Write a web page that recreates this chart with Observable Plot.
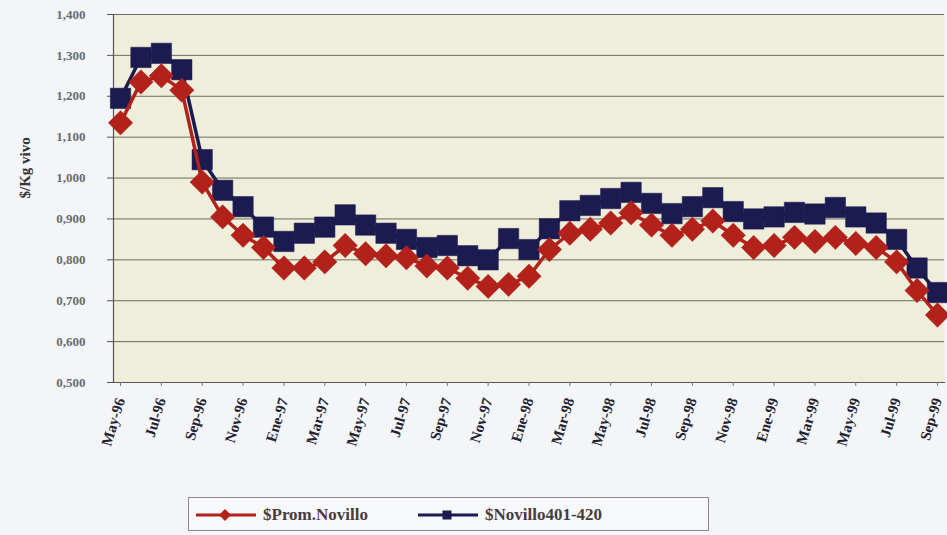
<!DOCTYPE html>
<html>
<head>
<meta charset="utf-8">
<script src="https://cdn.jsdelivr.net/npm/d3@7"></script>
<script src="https://cdn.jsdelivr.net/npm/@observablehq/plot@0.6"></script>
<style>
  html, body { margin: 0; padding: 0; }
  body { width: 947px; height: 535px; position: relative; overflow: hidden; background: #f3f5f9; font-family: "Liberation Serif", serif; }
  #chart { position: absolute; left: 0; top: 0; }
  #legend { position: absolute; left: 188px; top: 497px; width: 521px; height: 34px; border: 1px solid #8a8a8a; background: #f7f8fa; box-sizing: border-box; }
  .item { position: absolute; top: 0; height: 34px; display: flex; align-items: center; font-weight: bold; font-size: 17px; color: #4a3c3c; }
  .item svg { margin-right: 6px; }
</style>
</head>
<body>
<div id="chart"></div>
<div id="legend"></div>
<script>
const months = ["May-96","Jun-96","Jul-96","Ago-96","Sep-96","Oct-96","Nov-96","Dic-96",
  "Ene-97","Feb-97","Mar-97","Abr-97","May-97","Jun-97","Jul-97","Ago-97","Sep-97","Oct-97","Nov-97","Dic-97",
  "Ene-98","Feb-98","Mar-98","Abr-98","May-98","Jun-98","Jul-98","Ago-98","Sep-98","Oct-98","Nov-98","Dic-98",
  "Ene-99","Feb-99","Mar-99","Abr-99","May-99","Jun-99","Jul-99","Ago-99","Sep-99"];
const tickLabels = ["May-96","Jul-96","Sep-96","Nov-96","Ene-97","Mar-97","May-97","Jul-97","Sep-97","Nov-97",
  "Ene-98","Mar-98","May-98","Jul-98","Sep-98","Nov-98","Ene-99","Mar-99","May-99","Jul-99","Sep-99"];
const yTicks = [0.5, 0.6, 0.7, 0.8, 0.9, 1.0, 1.1, 1.2, 1.3, 1.4];
const promNovillo = [1.135, 1.235, 1.25, 1.215, 0.99, 0.905, 0.86, 0.83, 0.78, 0.78,
  0.795, 0.835, 0.815, 0.81, 0.805, 0.785, 0.78, 0.755, 0.735, 0.74,
  0.76, 0.825, 0.865, 0.875, 0.89, 0.915, 0.885, 0.86, 0.875, 0.895,
  0.86, 0.83, 0.835, 0.855, 0.845, 0.855, 0.84, 0.83, 0.795, 0.725, 0.665];
const novillo401 = [1.195, 1.295, 1.305, 1.265, 1.045, 0.97, 0.93, 0.88, 0.845, 0.865,
  0.88, 0.91, 0.885, 0.865, 0.85, 0.83, 0.835, 0.81, 0.80, 0.852,
  0.825, 0.876, 0.92, 0.933, 0.95, 0.965, 0.938, 0.913, 0.93, 0.952,
  0.918, 0.90, 0.905, 0.916, 0.912, 0.928, 0.905, 0.89, 0.85, 0.78, 0.72];
const seriesNames = ["$Prom.Novillo", "$Novillo401-420"];
const RED = "#b3211b", NAVY = "#1c1b50";

const data = months.map((m, i) => ({month: m, prom: promNovillo[i], nov: novillo401[i]}));
const fmt = d => d.toFixed(3).replace(".", ",");

const chart = Plot.plot({
  width: 947,
  height: 495,
  marginLeft: 113,
  marginRight: 3,
  marginTop: 14,
  marginBottom: 113,
  style: {background: "transparent", fontFamily: "Liberation Serif, serif"},
  x: {type: "point", domain: months, padding: 0.344, round: false},
  y: {domain: [0.5, 1.4]},
  marks: [
    Plot.frame({fill: "#eeeedb", stroke: null}),
    Plot.gridY(yTicks, {stroke: "#5e5e52", strokeOpacity: 0.9, strokeWidth: 1}),
    Plot.frame({anchor: "left", stroke: "#555", strokeWidth: 1.2}),
    Plot.frame({anchor: "bottom", stroke: "#555", strokeWidth: 1.2}),
    Plot.axisY({ticks: yTicks, tickFormat: fmt, tickSize: 6, tickPadding: 22, fontSize: 13, fontWeight: "bold", fill: "#6a6a6a", stroke: "#555", label: null}),
    Plot.axisX({ticks: tickLabels, tickRotate: -73, tickSize: 4, tickPadding: 12, fontSize: 15, fontWeight: "bold", fill: "#22222e", stroke: "#777", label: null}),
    Plot.line(data, {x: "month", y: "nov", stroke: NAVY, strokeWidth: 3.5}),
    Plot.dot(data, {x: "month", y: "nov", symbol: "square", r: 11.5, fill: NAVY, stroke: NAVY, strokeWidth: 0.5}),
    Plot.line(data, {x: "month", y: "prom", stroke: RED, strokeWidth: 3.5}),
    Plot.dot(data, {x: "month", y: "prom", symbol: "diamond2", r: 11, fill: RED, stroke: RED, strokeWidth: 0.5}),
    Plot.text(["$/Kg vivo"], {frameAnchor: "left", dx: -88, rotate: -90, fontSize: 15, fontWeight: "bold", fill: "#333", fontFamily: "Liberation Serif, serif"})
  ]
});
document.getElementById("chart").appendChild(chart);

// legend
const legend = document.getElementById("legend");
const items = [
  {name: seriesNames[0], color: RED, shape: "diamond", left: 6},
  {name: seriesNames[1], color: NAVY, shape: "square", left: 228}
];
for (const it of items) {
  const div = document.createElement("div");
  div.className = "item";
  div.style.left = it.left + "px";
  const marker = it.shape === "diamond"
    ? `<path d="M30,11 L36,17 L30,23 L24,17 Z" fill="${it.color}"/>`
    : `<rect x="25.5" y="12.5" width="9" height="9" fill="${it.color}"/>`;
  div.innerHTML = `<svg width="62" height="34"><line x1="1" x2="61" y1="17" y2="17" stroke="${it.color}" stroke-width="3"/>${marker}</svg><span>${it.name}</span>`;
  legend.appendChild(div);
}
</script>
</body>
</html>
